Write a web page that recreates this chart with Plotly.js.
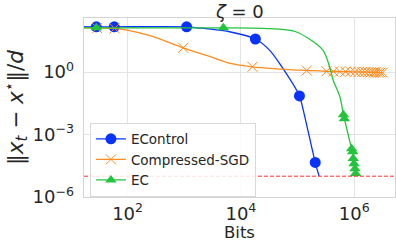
<!DOCTYPE html>
<html><head><meta charset="utf-8">
<script src="https://cdn.plot.ly/plotly-3.0.1.min.js"></script>
<style>body{margin:0;padding:0;background:#fff}#c{width:396px;height:242px}</style>
</head><body><div id="c"></div>
<script>
// ---- data ----
var names = ['EControl', 'Compressed-SGD', 'EC'];
// marker points
var ecX = [28, 58, 1100, 18000, 108000, 205000];
var ecY = [150, 150, 150, 39, 0.072, 4.6e-5];
var csX = [29, 59, 960, 16000, 1.45e5, 3.25e5, 4.3e5, 5.6e5, 7.0e5, 8.6e5, 1.03e6, 1.2e6, 1.38e6, 1.56e6, 1.77e6, 1.97e6, 2.2e6, 2.4e6, 2.65e6, 2.9e6, 3.2e6];
var csY = [130, 126, 14.7, 1.8, 1.2, 1.1, 1.08, 1.06, 1.05, 1.04, 1.03, 1.02, 1.01, 1.0, 0.99, 0.98, 0.97, 0.97, 0.96, 0.95, 0.95];
var eX = [28, 4900, 6.45e5, 6.7e5, 9.0e5, 9.4e5, 9.6e5, 9.9e5, 1.03e6, 1.06e6];
var eY = [135, 135, 9e-3, 5.8e-3, 2.1e-4, 1.5e-4, 7e-5, 4e-5, 2.3e-5, 1.35e-5];
// curve-only points (line between markers)
var ecLX = [17, 1700, 6300, 32000, 48000, 126000, 240000];
var ecLY = [150, 135, 87, 11.4, 2.6, 0.015, 1e-5];
var csLX = [17, 98, 250, 2900, 6500];
var csLY = [135, 105, 56, 5.5, 2.6];
var eLX = [17, 26000, 93000, 280000, 390000, 425000, 560000, 1.09e6];
var eLY = [135, 126, 87, 11.4, 1.0, 0.41, 0.065, 1e-5];
var threshold = [1e-5];
var xTicks = [100, 10000, 1000000];
var xTickText = ['10<sup>2</sup>', '10<sup>4</sup>', '10<sup>6</sup>'];
var yTicks = [1e-6, 1e-3, 1];
var yTickText = ['10<sup>−6</sup>', '10<sup>−3</sup>', '10<sup>0</sup>'];

var colors = ['#0a32ff', '#ff8a1e', '#22c43c'];
var symbols = ['circle', 'x-thin', 'triangle-up'];
var MS = [11, 10, 10];

function build(mx, my, lx, ly, k) {
  var pts = [];
  for (var i = 0; i < mx.length; i++) pts.push([mx[i], my[i], true]);
  for (var j = 0; j < lx.length; j++) pts.push([lx[j], ly[j], false]);
  pts.sort(function (a, b) { return a[0] - b[0]; });
  var first = pts.findIndex(function (p) { return p[2]; });
  var lead = pts.slice(0, first + 1);
  var rest = pts.slice(first);
  var clear = 'rgba(0,0,0,0)';
  var cols = rest.map(function (p) { return p[2] ? colors[k] : clear; });
  var out = [];
  out.push({
    x: lead.map(p => p[0]), y: lead.map(p => p[1]), type: 'scatter', mode: 'lines',
    showlegend: false, hoverinfo: 'skip',
    line: {color: colors[k], width: 1.3, shape: 'spline', smoothing: 0.8}
  });
  out.push({
    x: rest.map(p => p[0]), y: rest.map(p => p[1]), name: names[k], type: 'scatter', mode: 'lines+markers',
    line: {color: colors[k], width: 1.3, shape: 'spline', smoothing: 0.8},
    marker: {color: cols, symbol: symbols[k], size: MS[k],
      line: {color: cols, width: k === 1 ? 1 : 0}}
  });
  return out;
}
var traces = [].concat(
  build(ecX, ecY, ecLX, ecLY, 0),
  build(csX, csY, csLX, csLY, 1),
  build(eX, eY, eLX, eLY, 2));

var F = 'DejaVu Sans, sans-serif';
var layout = {
  width: 396, height: 242,
  margin: {l: 84, r: 1, t: 18, b: 45, pad: 0},
  paper_bgcolor: '#fff', plot_bgcolor: '#fff',
  font: {family: F, color: '#262626'},
  showlegend: true,
  legend: {x: 0.019, y: 0.416, xanchor: 'left', yanchor: 'top', bgcolor: 'rgba(255,255,255,0.85)',
    bordercolor: '#d9d9d9', borderwidth: 1, font: {size: 13.5, family: F, color: '#262626'},
    itemsizing: 'trace', itemwidth: 30, tracegroupgap: 0},
  xaxis: {type: 'log', range: [1.23, 6.72], tickmode: 'array', tickvals: xTicks, ticktext: xTickText,
    showgrid: true, gridcolor: '#e3e3e3', gridwidth: 1, zeroline: false,
    showline: true, mirror: true, linecolor: '#d4d4d4', linewidth: 1.3, ticks: '',
    tickfont: {size: 18, family: F, color: '#262626'}, ticklabelstandoff: 0},
  yaxis: {type: 'log', range: [-6, 2.6], tickmode: 'array', tickvals: yTicks, ticktext: yTickText,
    showgrid: true, gridcolor: '#e3e3e3', gridwidth: 1, zeroline: false,
    showline: true, mirror: true, linecolor: '#d4d4d4', linewidth: 1.3, ticks: '',
    tickfont: {size: 18, family: F, color: '#262626'}, ticklabelstandoff: 5},
  shapes: [{type: 'line', xref: 'paper', x0: 0, x1: 1, yref: 'y', y0: threshold[0], y1: threshold[0],
    line: {color: '#ff2a2a', width: 1, dash: '4px,2px'}}],
  annotations: [
    {text: '<i>ζ</i> = 0', xref: 'paper', yref: 'paper', x: 0.5, y: 1.039, showarrow: false,
      xanchor: 'center', yanchor: 'middle', font: {size: 18, family: F, color: '#262626'}},
    {text: 'Bits', xref: 'paper', yref: 'paper', x: 0.5, y: -0.264, showarrow: false,
      xanchor: 'center', yanchor: 'bottom', font: {size: 16.5, family: F, color: '#262626'}},
    {text: '‖<i>x</i><sub><i>t</i></sub> − <i>x</i><sup>⋆</sup>‖/<i>d</i>', xref: 'paper', yref: 'paper',
      x: -0.219, y: 0.502, showarrow: false, textangle: -90, xanchor: 'center', yanchor: 'middle',
      font: {size: 21.5, family: F, color: '#262626'}}
  ]
};
Plotly.newPlot('c', traces, layout, {staticPlot: true, displayModeBar: false});
</script></body></html>
